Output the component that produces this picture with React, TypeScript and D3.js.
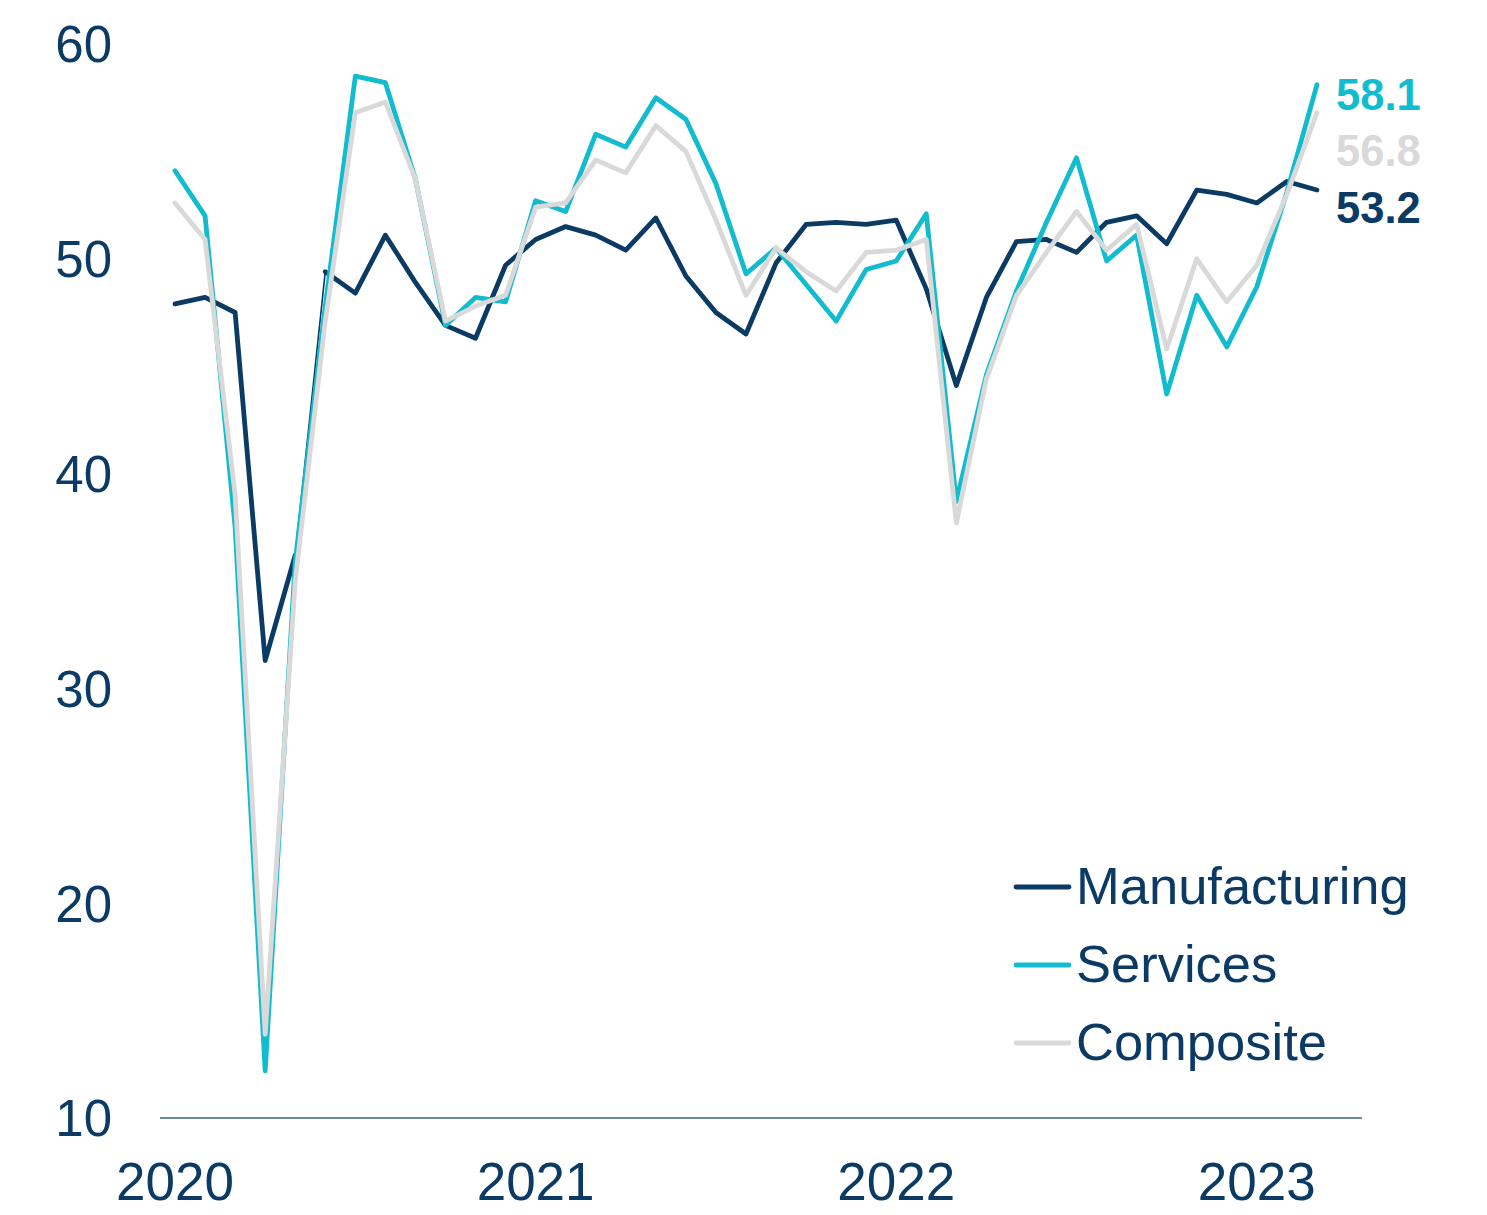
import React from "react";
import * as d3 from "d3";

const months: string[] = [];
for (let y = 2020; y <= 2023; y++) {
  for (let m = 1; m <= 12; m++) {
    if (y === 2023 && m > 3) break;
    months.push(`${y}-${String(m).padStart(2, "0")}`);
  }
}

const manufacturing = [
  47.9, 48.2, 47.5, 31.3, 36.2, 49.4, 48.4, 51.1, 48.9, 46.9, 46.3, 49.7,
  50.9, 51.5, 51.1, 50.4, 51.9, 49.2, 47.5, 46.5, 49.8, 51.6, 51.7, 51.6,
  51.8, 48.6, 44.1, 48.2, 50.8, 50.9, 50.3, 51.7, 52.0, 50.7, 53.2, 53.0,
  52.6, 53.6, 53.2,
];
const services = [
  54.1, 52.0, 37.5, 12.2, 35.9, 47.8, 58.5, 58.2, 53.7, 46.9, 48.2, 48.0,
  52.7, 52.2, 55.8, 55.2, 57.5, 56.5, 53.5, 49.3, 50.5, 48.8, 47.1, 49.5,
  49.9, 52.1, 38.7, 44.6, 48.5, 51.7, 54.7, 49.9, 51.1, 43.7, 48.3, 45.9,
  48.7, 53.1, 58.1,
];
const composite = [
  52.6, 50.9, 39.0, 13.9, 35.0, 47.1, 56.8, 57.3, 53.7, 47.1, 47.8, 48.3,
  52.4, 52.6, 54.6, 54.0, 56.2, 55.0, 51.8, 48.3, 50.5, 49.4, 48.5, 50.3,
  50.4, 50.9, 37.7, 44.4, 48.3, 50.3, 52.2, 50.4, 51.6, 45.8, 50.0, 48.0,
  49.7, 53.0, 56.8,
];

const yTicks = [10, 20, 30, 40, 50, 60];
const yearLabels = ["2020", "2021", "2022", "2023"];
const seriesNames = ["Manufacturing", "Services", "Composite"];
const seriesColors = ["#0b3a64", "#12bccf", "#d9d9d9"];
// index of the manufacturing segment drawn thin in the original (May -> Jun 2020)
const thinSegmentStart = 4;

const TEXT = "#0b3a64";
const FONT = "'Liberation Sans', Arial, sans-serif";
const SW = 4.8;

export default function App() {
  const width = 1487;
  const height = 1215;
  const x = d3.scaleLinear().domain([-0.5, months.length + 0.5]).range([160, 1362]);
  const y = d3.scaleLinear().domain([10, 60]).range([1118, 44]);

  const allSeries = [manufacturing, services, composite];
  const lineAt = (offset: number) =>
    d3
      .line<number>()
      .x((_, i) => x(i + offset))
      .y((d) => y(d));

  const lastIdx = months.length - 1;

  return (
    <div style={{ position: "absolute", left: 0, top: 0 }}>
      <svg width={width} height={height} style={{ display: "block", background: "#fff" }}>
        <line x1={160} x2={1362} y1={y(10)} y2={y(10)} stroke="#41607f" strokeWidth={1.6} />

        {yTicks.map((t) => (
          <text key={t} x={112} y={y(t)} dy="0.36em" textAnchor="end" fontFamily={FONT} fontSize={51} fill={TEXT}>
            {t}
          </text>
        ))}

        {yearLabels.map((yr, k) => (
          <text key={yr} x={x(k * 12)} y={1200} textAnchor="middle" fontFamily={FONT} fontSize={53} fill={TEXT}>
            {yr}
          </text>
        ))}

        {allSeries.map((data, si) => {
          if (si === 0) {
            const before = data.slice(0, thinSegmentStart + 1);
            const thin = data.slice(thinSegmentStart, thinSegmentStart + 2);
            const after = data.slice(thinSegmentStart + 1);
            return (
              <g key={si}>
                <path d={lineAt(0)(before) || ""} fill="none" stroke={seriesColors[si]} strokeWidth={SW} strokeLinejoin="round" strokeLinecap="round" />
                <path d={lineAt(thinSegmentStart)(thin) || ""} fill="none" stroke={seriesColors[si]} strokeWidth={1.6} />
                <path d={lineAt(thinSegmentStart + 1)(after) || ""} fill="none" stroke={seriesColors[si]} strokeWidth={SW} strokeLinejoin="round" strokeLinecap="round" />
              </g>
            );
          }
          return (
            <path
              key={si}
              d={lineAt(0)(data) || ""}
              fill="none"
              stroke={seriesColors[si]}
              strokeWidth={SW}
              strokeLinejoin="round"
              strokeLinecap="round"
            />
          );
        })}

        {[
          { v: services[lastIdx], c: seriesColors[1], yy: 110 },
          { v: composite[lastIdx], c: seriesColors[2], yy: 166 },
          { v: manufacturing[lastIdx], c: seriesColors[0], yy: 223 },
        ].map((d, k) => (
          <text key={k} x={1336} y={d.yy} fontFamily={FONT} fontSize={43.5} fontWeight="bold" fill={d.c}>
            {d.v.toFixed(1)}
          </text>
        ))}

        {seriesNames.map((name, k) => {
          const ly = 887 + k * 78;
          return (
            <g key={name}>
              <line x1={1016} x2={1069} y1={ly} y2={ly} stroke={seriesColors[k]} strokeWidth={SW} strokeLinecap="round" />
              <text x={1076} y={ly + 17} fontFamily={FONT} fontSize={52.5} fill={TEXT}>
                {name}
              </text>
            </g>
          );
        })}
      </svg>
    </div>
  );
}
